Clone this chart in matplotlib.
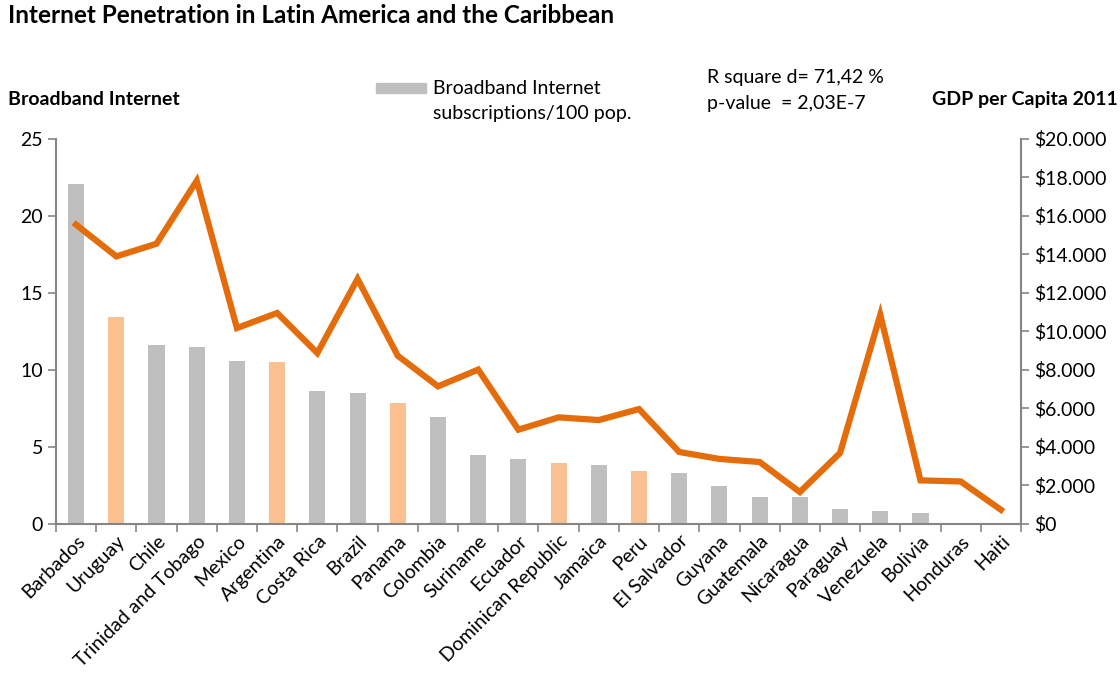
import matplotlib
matplotlib.use("Agg")
import matplotlib.pyplot as plt
from matplotlib.patches import Rectangle
from matplotlib.ticker import FuncFormatter

# data
countries = ["Barbados", "Uruguay", "Chile", "Trinidad and Tobago", "Mexico",
             "Argentina", "Costa Rica", "Brazil", "Panama", "Colombia",
             "Suriname", "Ecuador", "Dominican Republic", "Jamaica", "Peru",
             "El Salvador", "Guyana", "Guatemala", "Nicaragua", "Paraguay",
             "Venezuela", "Bolivia", "Honduras", "Haiti"]
broadband = [22.1, 13.45, 11.6, 11.5, 10.6, 10.53, 8.65, 8.52, 7.87, 6.92,
             4.5, 4.19, 3.98, 3.83, 3.46, 3.28, 2.46, 1.77, 1.77, 0.95,
             0.86, 0.69, 0.0, 0.0]
gdp = [15550, 13900, 14560, 17830, 10180, 10960, 8880, 12730, 8740, 7150,
       8020, 4900, 5540, 5400, 5970, 3740, 3380, 3220, 1660, 3690,
       10870, 2265, 2210, 740]
highlight = ["Uruguay", "Argentina", "Panama", "Dominican Republic", "Peru"]

GREY = "#BFBFBF"
LIGHT_ORANGE = "#FAC090"
ORANGE = "#E46C0A"
AXIS = "#868686"

plt.rcParams["font.family"] = ["Lato", "DejaVu Sans"]

fig = plt.figure(figsize=(11.2, 6.77), dpi=100)
ax = fig.add_axes([0.05, 0.226, 0.8616, 0.5687])
ax2 = ax.twinx()

x = list(range(len(countries)))
colors = [LIGHT_ORANGE if c in highlight else GREY for c in countries]
ax.bar(x, broadband, width=0.4, color=colors, zorder=2)
ax2.plot(x, gdp, color=ORANGE, lw=4.5, solid_joinstyle="miter", zorder=3)

ax.set_xlim(-0.5, len(countries) - 0.5)
ax.set_ylim(0, 25)
ax2.set_ylim(0, 20000)
ax.set_yticks(range(0, 26, 5))
ax2.set_yticks(range(0, 20001, 2000))
ax2.yaxis.set_major_formatter(FuncFormatter(lambda v, p: "$" + format(int(v), ",").replace(",", ".")))

# category ticks between bars, labels centred under bars
ax.set_xticks([i - 0.5 for i in range(len(countries) + 1)])
ax.set_xticklabels([])
ax.set_xticks(x, minor=True)
ax.set_xticklabels(countries, minor=True, rotation=45, ha="right",
                   rotation_mode="anchor", fontsize=14)
ax.tick_params(axis="x", which="minor", length=0, pad=6)
ax.tick_params(axis="x", which="major", length=6, color=AXIS, width=1.2)
ax.tick_params(axis="y", length=6, color=AXIS, width=1.2, labelsize=14)
ax2.tick_params(axis="y", length=6, color=AXIS, width=1.2, labelsize=14)

for a in (ax, ax2):
    a.spines["top"].set_visible(False)
    for s in ("left", "right", "bottom"):
        a.spines[s].set_color(AXIS)
        a.spines[s].set_linewidth(1.5)
ax.spines["right"].set_visible(False)
ax2.spines["left"].set_visible(False)
ax2.spines["bottom"].set_visible(False)

fig.text(0.007, 0.977, "Internet Penetration in Latin America and the Caribbean",
         fontsize=17.5, fontweight="bold", va="center")
fig.text(0.007, 0.853, "Broadband Internet", fontsize=14, fontweight="bold", va="center")
fig.text(0.998, 0.853, "GDP per Capita 2011", fontsize=14, fontweight="bold",
         va="center", ha="right")

# legend drawn by hand, like the reference
fig.patches.append(Rectangle((376 / 1120, 1 - 93 / 677), 50 / 1120, 10 / 677,
                             transform=fig.transFigure, color=GREY))
fig.text(433 / 1120, 1 - 88 / 677, "Broadband Internet", fontsize=14, va="center")
fig.text(433 / 1120, 1 - 113 / 677, "subscriptions/100 pop.", fontsize=14, va="center")

fig.text(707 / 1120, 1 - 78 / 677, "R square d= 71,42 %", fontsize=14, va="center")
fig.text(707 / 1120, 1 - 103 / 677, "p-value  = 2,03E-7", fontsize=14, va="center")

fig.savefig("out.png", dpi=100)
